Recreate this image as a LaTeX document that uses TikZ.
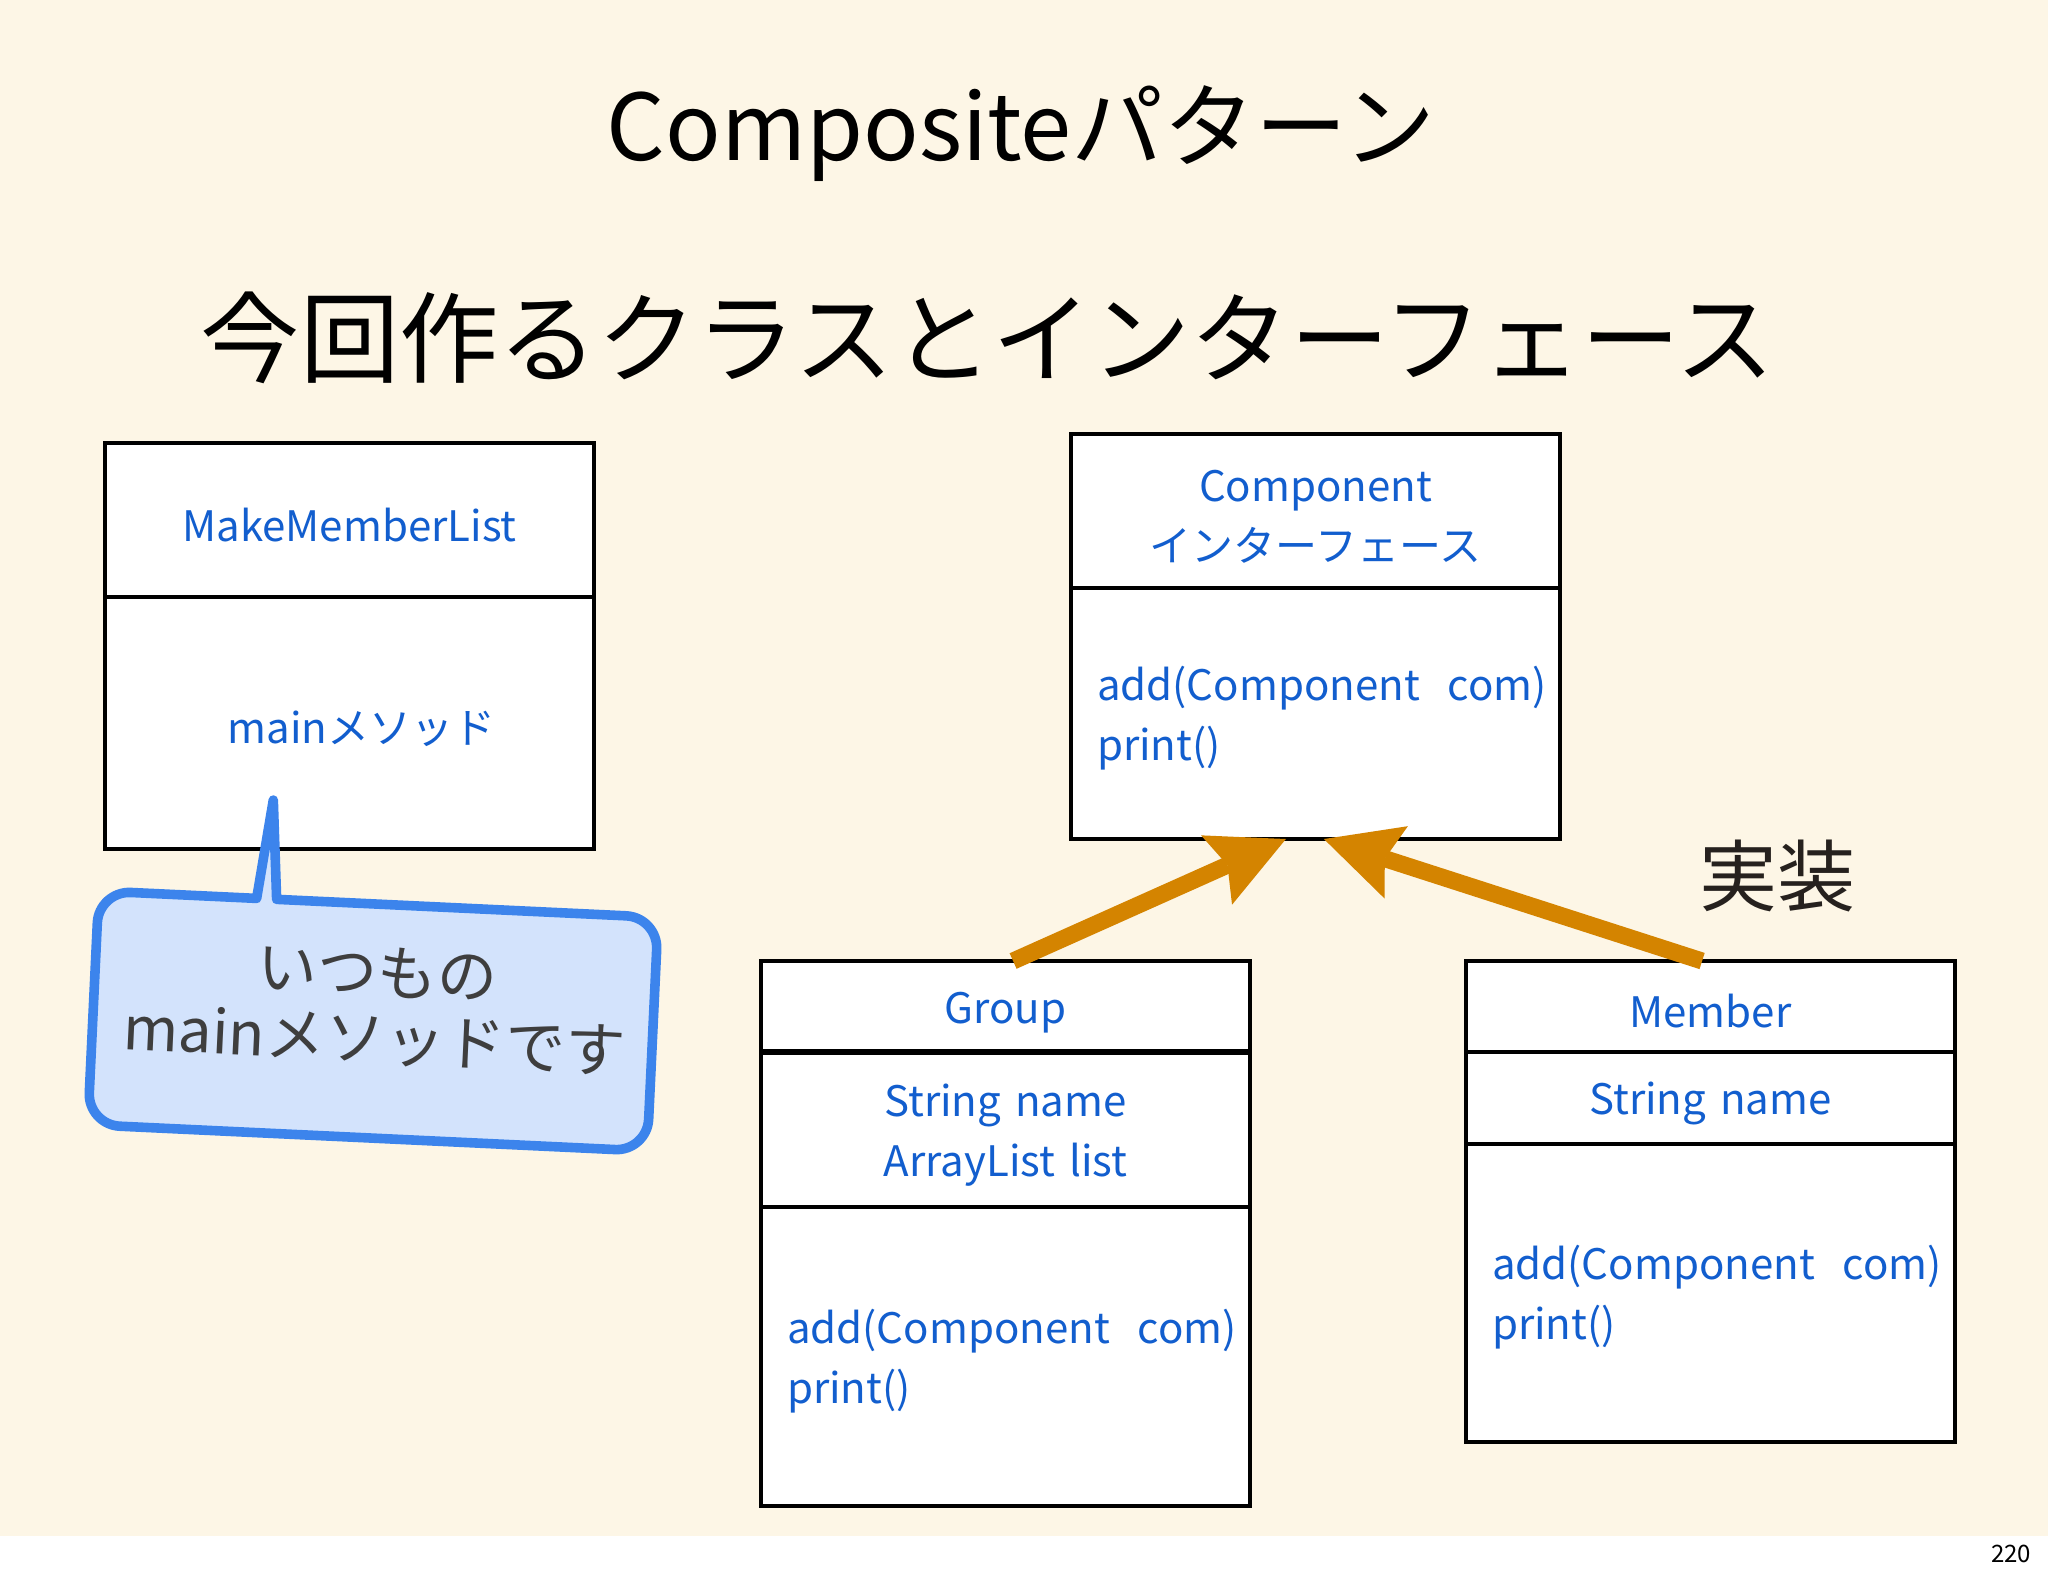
\documentclass[tikz,border=0pt]{standalone}
\usepackage{fontspec}
\setmainfont{Noto Sans CJK JP}
\usetikzlibrary{positioning,calc,arrows.meta}

\definecolor{slidebg}{RGB}{253,246,230}
\definecolor{umlblue}{RGB}{18,94,206}
\definecolor{implorange}{RGB}{212,132,0}
\definecolor{notefill}{RGB}{211,227,252}
\definecolor{noteedge}{RGB}{60,132,236}
\definecolor{notetext}{RGB}{62,62,62}
\definecolor{labelink}{RGB}{38,33,30}

\tikzset{
  umlpart/.style={draw=black,line width=0.9pt,fill=white,outer sep=0pt,
    text=umlblue,font=\fontsize{10.5}{15}\selectfont,text height=10.8pt,
    inner xsep=6.5pt,inner ysep=0pt,text width=109.25pt},
  umlname/.style={umlpart,align=center},
  umlops/.style={umlpart,align=left},
  implarrow/.style={draw=implorange,line width=4.25pt,
    -{Stealth[length=19pt,width=19pt,inset=3pt,line width=0pt]}},
  notebox/.style={fill=notefill,draw=noteedge,line width=2.4pt,line join=round},
}

\begin{document}
\begin{tikzpicture}[x=0.25pt,y=-0.25pt]
    \useasboundingbox (0,0) rectangle (2048,1576);
    \fill[white] (0,0) rectangle (2048,1576);
    \fill[slidebg] (0,0) rectangle (2048,1536);

    \node[anchor=base,font=\fontsize{23}{27}\selectfont] (title) at (1021,160) {Compositeパターン};
    \node[anchor=base,font=\fontsize{24.8}{28}\selectfont] (subtitle) at (988,375) {今回作るクラスとインターフェース};

    % main class
    \node[umlname,minimum height=38.5pt,anchor=north west] (mml) at (105,443) {MakeMemberList};
    \node[umlname,minimum height=63pt,below=0pt of mml] (mmlops) {\hspace*{6pt}mainメソッド};

    % interface
    \node[umlname,minimum height=38.5pt,anchor=north west] (comp) at (1071,434) {Component\\インターフェース};
    \node[umlops,minimum height=62.75pt,below=0pt of comp] (compops) {add(Component~~com)\\print()};

    % Group
    \node[umlname,minimum height=22.75pt,anchor=north west] (grp) at (761,961) {Group};
    \node[umlname,minimum height=38.75pt,below=0pt of grp] (grpattr) {String name\\ArrayList list};
    \node[umlops,minimum height=74.75pt,below=0pt of grpattr] (grpops) {add(Component~~com)\\print()};
    \draw[line width=1.6pt] (grp.south west) -- (grp.south east);

    % Member
    \node[umlname,minimum height=22.75pt,anchor=north west] (mem) at (1466,961) {Member};
    \node[umlname,minimum height=23pt,below=0pt of mem] (memattr) {String name};
    \node[umlops,minimum height=74.5pt,below=0pt of memattr] (memops) {add(Component~~com)\\print()};

    \draw[implarrow] ([xshift=1.9pt]grp.north) -- ([xshift=-7.4pt]compops.south);
    \draw[implarrow] ([xshift=-2.1pt]mem.north) -- ([xshift=2.1pt]compops.south);
    \node[anchor=base,font=\fontsize{19.5}{22}\selectfont,text=labelink] (impl) at (1777,905) {実装};

    % speech bubble
    \begin{scope}[shift={(373,1021)},rotate=-2.7]
        \draw[notebox] (-280,0) [rounded corners=8pt] -- (-280,-117) [sharp corners] -- (-122,-117) -- (-110,-216)
            -- (-102,-117) [rounded corners=8pt] -- (280,-117) -- (280,117) -- (-280,117) -- cycle;
        \node[transform shape,align=center,text=notetext,font=\fontsize{15}{16.75}\selectfont] (note) at (2,-15)
            {いつもの\\mainメソッドです};
    \end{scope}

    \node[anchor=base east,inner sep=0pt,font=\fontsize{6}{7}\selectfont] (pagenum) at (2032,1562) {220};
\end{tikzpicture}
\end{document}
